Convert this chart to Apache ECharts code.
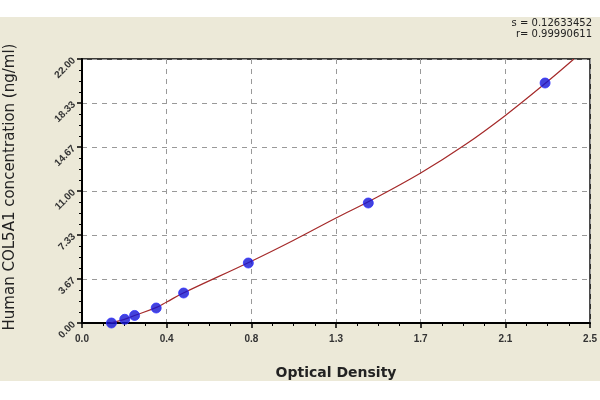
<!DOCTYPE html>
<html>
<head>
<meta charset="utf-8">
<script src="https://cdn.jsdelivr.net/npm/echarts@6/dist/echarts.min.js"></script>
<style>
html,body{margin:0;padding:0;background:#fff;}
#c{width:600px;height:400px;}
</style>
</head>
<body>
<div id="c"></div>
<script>
// Standard points: optical density vs concentration (ng/ml)
const odValues   = [0.146, 0.212, 0.261, 0.368, 0.504, 0.825, 1.42, 2.297];
const concValues = [0.00, 0.31, 0.63, 1.25, 2.50, 5.00, 10.00, 20.00];
// Fitted curve
const curveOD    = [0.14, 0.21, 0.26, 0.37, 0.42, 0.50, 0.84, 1.05, 1.26, 1.42, 1.68, 1.90, 2.10, 2.30, 2.44];
const curveConc  = [0.00, 0.30, 0.62, 1.30, 1.75, 2.48, 5.15, 6.90, 8.75, 10.10, 12.50, 14.85, 17.30, 20.00, 22.00];
// Axis tick settings
const xTickStep = 0.42, xMax = 2.52;
const yTickStep = 22 / 6, yMax = 22;
const statLines = ['s = 0.12633452', 'r= 0.99990611'];
const xTitle = 'Optical Density';
const yTitle = 'Human COL5A1 concentration (ng/ml)';

const chart = echarts.init(document.getElementById('c'), null, {renderer: 'canvas'});
const pts = odValues.map((v, i) => [v, concValues[i]]);
const curve = curveOD.map((v, i) => [v, curveConc[i]]);
const font = 'Liberation Sans, Arial, sans-serif';
const wide = 'DejaVu Sans, Verdana, sans-serif';

chart.setOption({
  backgroundColor: '#ffffff',
  animation: false,
  graphic: [
    {type: 'rect', z: -10, silent: true, shape: {x: 0, y: 17, width: 600, height: 364}, style: {fill: '#ECE9D8'}},
    {type: 'text', x: 592, y: 18, z: 5, style: {text: statLines[0], font: '10px ' + wide, fill: '#222', textAlign: 'right', textVerticalAlign: 'top'}},
    {type: 'text', x: 592, y: 29, z: 5, style: {text: statLines[1], font: '10px ' + wide, fill: '#222', textAlign: 'right', textVerticalAlign: 'top'}},
    {type: 'text', x: 10, y: 187, rotation: Math.PI / 2, z: 5,
      style: {text: yTitle, font: '15px ' + wide, fill: '#222', textAlign: 'center', textVerticalAlign: 'middle'}}
  ],
  grid: {left: 82, right: 7, top: 59, bottom: 77, show: true, backgroundColor: '#ffffff', borderColor: '#000', borderWidth: 1.5},
  xAxis: {
    type: 'value', min: 0, max: xMax, interval: xTickStep,
    name: xTitle, nameLocation: 'middle', nameGap: 43,
    nameTextStyle: {fontFamily: wide, fontSize: 14, fontWeight: 'bold', color: '#222'},
    axisLine: {show: true, lineStyle: {color: '#000', width: 2}},
    axisTick: {show: true, length: 5, lineStyle: {color: '#000', width: 1.5}},
    minorTick: {show: true, splitNumber: 4, length: 3, lineStyle: {color: '#000'}},
    axisLabel: {fontFamily: font, fontSize: 10, fontWeight: 'bold', color: '#333', margin: 11,
      formatter: v => v.toFixed(1), showMaxLabel: true},
    splitLine: {show: true, lineStyle: {color: '#999', type: [5, 5], width: 1}}
  },
  yAxis: {
    type: 'value', min: 0, max: yMax, interval: yTickStep,
    axisLine: {show: true, lineStyle: {color: '#000', width: 2}},
    axisTick: {show: true, length: 5, lineStyle: {color: '#000', width: 1.5}},
    minorTick: {show: true, splitNumber: 4, length: 3, lineStyle: {color: '#000'}},
    axisLabel: {fontFamily: font, fontSize: 10, fontWeight: 'bold', color: '#333', rotate: 45, margin: 8,
      formatter: v => v.toFixed(2)},
    splitLine: {show: true, lineStyle: {color: '#999', type: [5, 5], width: 1}}
  },
  series: [
    {type: 'line', data: curve, smooth: 0.4, showSymbol: false, symbol: 'none',
      lineStyle: {color: '#a52a2a', width: 1.2}, z: 2},
    {type: 'scatter', data: pts, symbol: 'circle', symbolSize: 10,
      itemStyle: {color: '#1414d2', borderColor: '#3030ff', borderWidth: 1}, z: 3}
  ]
});
</script>
</body>
</html>
